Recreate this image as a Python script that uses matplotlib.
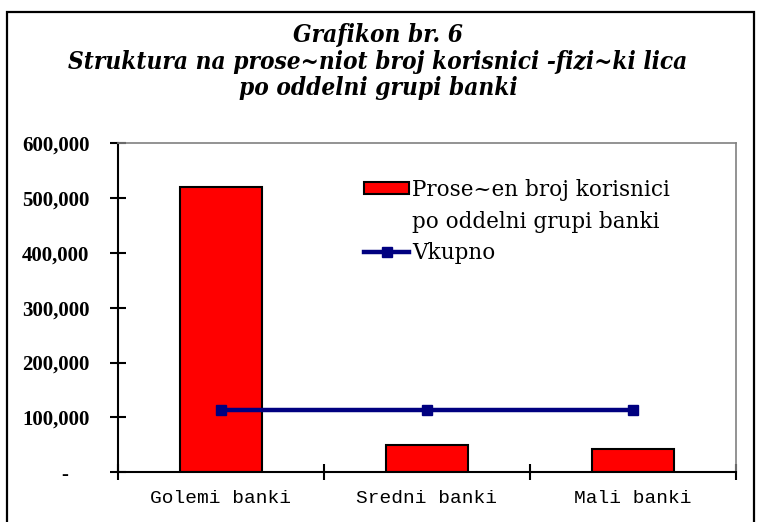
import matplotlib
matplotlib.use("Agg")
import matplotlib.pyplot as plt
from matplotlib.patches import Rectangle
from matplotlib.ticker import FuncFormatter, FixedLocator

# -----------------------------
# Data
# -----------------------------
categories = ["Golemi banki", "Sredni banki", "Mali banki"]
avg_users = [520500, 49600, 43000]        # Prose~en broj korisnici po grupa
total_avg = [113800, 113800, 113800]      # Vkupno
title_lines = ["Grafikon br. 6",
               "Struktura na prose~niot broj korisnici -fizi~ki lica",
               "po oddelni grupi banki"]
bar_label = ["Prose~en broj korisnici", "po oddelni grupi banki"]
line_label = "Vkupno"
y_ticks = [0, 100000, 200000, 300000, 400000, 500000, 600000]

W, H = 757, 522
fig = plt.figure(figsize=(W / 100, H / 100), dpi=100)

# outer chart border
fig.patches.append(Rectangle((7 / W, -0.05), (754 - 7) / W, 1.05 - 12 / H,
                             transform=fig.transFigure, fill=False,
                             edgecolor="black", linewidth=1.6))

# title
for txt, ypx in zip(title_lines, [35, 62, 88]):
    fig.text(378 / W, 1 - ypx / H, txt, ha="center", va="center",
             fontsize=17.5, fontweight="bold", fontstyle="italic",
             fontstretch="condensed", family="DejaVu Serif")

# plot area
ax = fig.add_axes([118 / W, (H - 472.3) / H, (736 - 118) / W, (472.3 - 143) / H])
x = list(range(len(categories)))

bars = ax.bar(x, avg_users, width=0.4, color="#ff0000", edgecolor="black",
              linewidth=1.5, zorder=2)
line, = ax.plot(x, total_avg, color="#000080", linewidth=3.2, marker="s",
                markersize=7, zorder=3)

ax.set_xlim(-0.5, len(categories) - 0.5)
ax.set_ylim(0, 600000)

# axes frame: black left/bottom, grey top/right
ax.spines["left"].set_linewidth(1.5)
ax.spines["bottom"].set_linewidth(1.5)
for s in ["top", "right"]:
    ax.spines[s].set_color("#808080")
    ax.spines[s].set_linewidth(1.2)

# y ticks
ax.yaxis.set_major_locator(FixedLocator(y_ticks))
ax.yaxis.set_major_formatter(FuncFormatter(
    lambda v, p: "-    " if v == 0 else f"{int(v):,}"))
ax.tick_params(axis="y", direction="inout", length=11, width=1.5, pad=15,
               labelsize=15)
for lab in ax.get_yticklabels():
    lab.set_family("Liberation Serif")
    lab.set_fontweight("bold")

# x ticks: marks at category boundaries, labels at centres
ax.set_xticks([i - 0.5 for i in range(len(categories) + 1)])
ax.set_xticklabels([])
ax.set_xticks(x, minor=True)
ax.set_xticklabels(categories, minor=True, family="Liberation Mono",
                   fontsize=14)
ax.tick_params(axis="x", which="major", direction="inout", length=11, width=1.5)
ax.tick_params(axis="x", which="minor", length=0, pad=13)

# legend (second line of the bar label sits next to an empty handle)
blank = Rectangle((0, 0), 1, 1, fill=False, edgecolor="none", visible=False)
leg = ax.legend(handles=[bars, blank, line],
                labels=[bar_label[0], bar_label[1], line_label],
                loc="upper left",
                bbox_to_anchor=(364 / W, 1 - 179 / H), bbox_transform=fig.transFigure,
                frameon=False, prop={"family": "DejaVu Serif", "size": 15.5},
                handlelength=2.1, handleheight=0.5, handletextpad=0.15,
                labelspacing=0.45, borderaxespad=0, borderpad=0)

fig.savefig("out.png", dpi=100)
